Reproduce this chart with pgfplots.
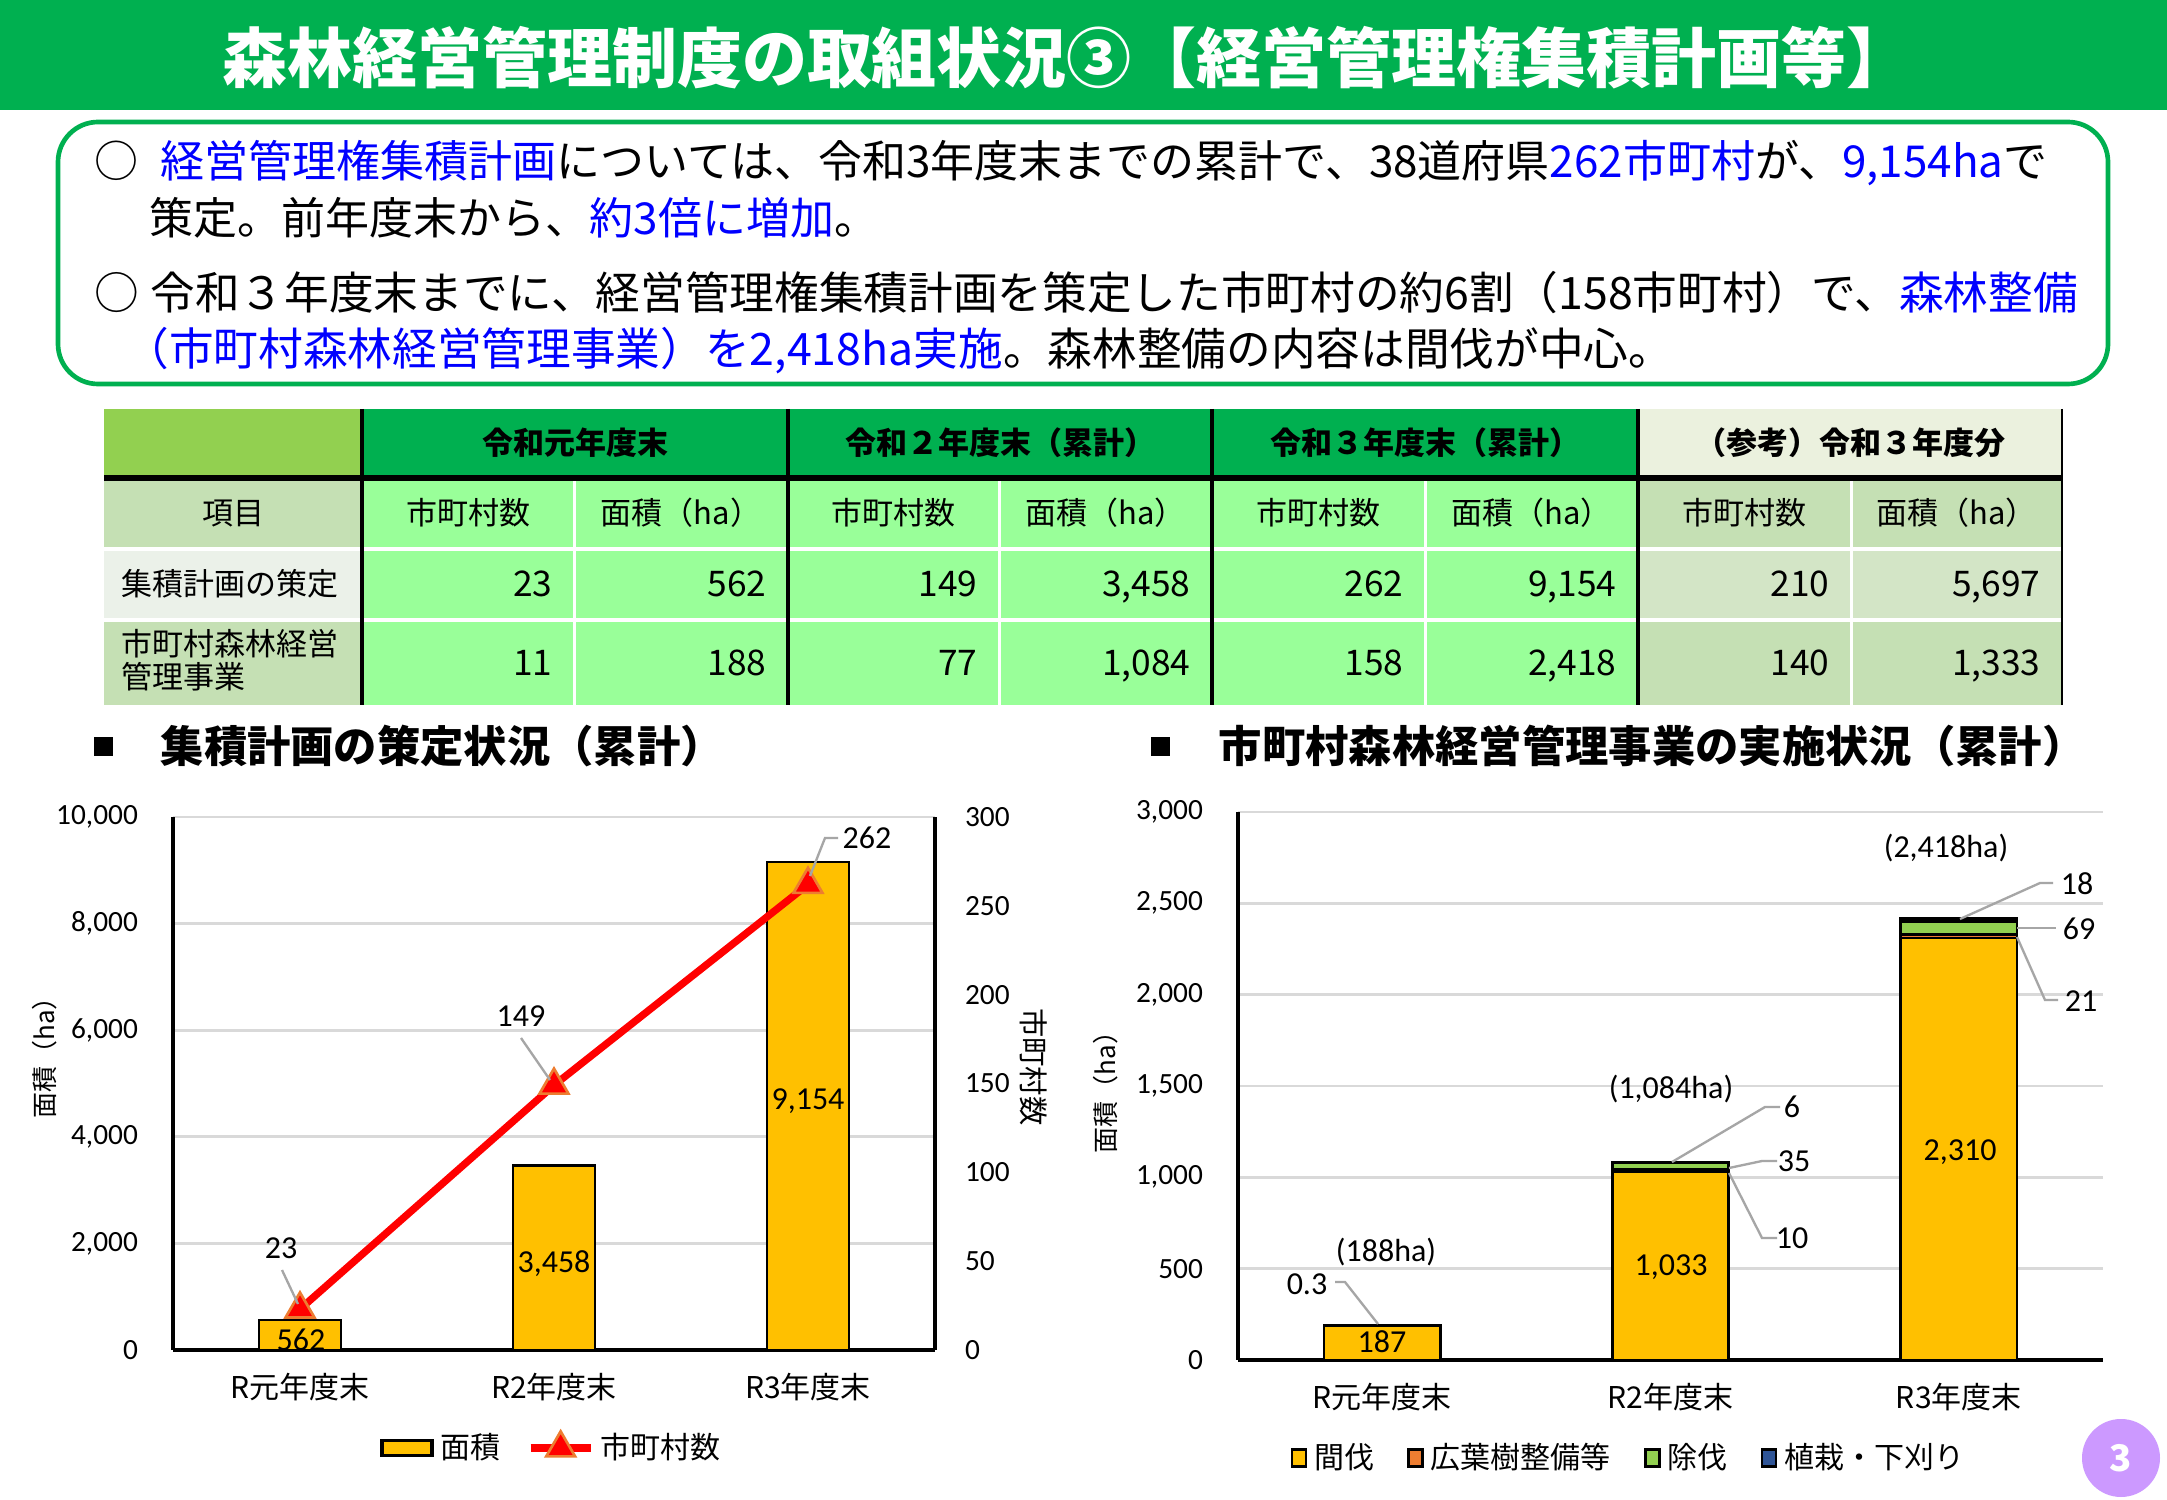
\documentclass[border=0pt]{standalone}
\usepackage{pgfplots}
\pgfplotsset{compat=1.18}
\usepackage{fontspec}
\setmainfont{Noto Sans CJK JP}
\newfontfamily\calfont{Carlito}
\newcommand{\fs}[1]{\fontsize{#1}{#1}\selectfont}
\definecolor{titlegreen}{HTML}{00B050}
\definecolor{lgreen}{HTML}{92D050}
\definecolor{cellgreen}{HTML}{99FF99}
\definecolor{palegreen}{HTML}{C5E0B4}
\definecolor{paler}{HTML}{EBF1E9}
\definecolor{refhead}{HTML}{EBF1DE}
\definecolor{refrow}{HTML}{D3E5C6}
\definecolor{barY}{HTML}{FFC000}
\definecolor{orangeC}{HTML}{ED7D31}
\definecolor{greenC}{HTML}{92D050}
\definecolor{blueC}{HTML}{2F5597}
\definecolor{gridgray}{HTML}{D9D9D9}
\definecolor{leader}{HTML}{A6A6A6}
\definecolor{purp}{HTML}{CC99FF}
\definecolor{txtblue}{HTML}{0000FF}
\pgfplotsset{
  mylinelegend/.style={legend image code/.code={\draw[mark repeat=2,mark phase=2,##1] plot coordinates {(0pt,0pt) (9pt,0pt) (18pt,0pt)};}},
  mybarlegend/.style={legend image code/.code={\draw[fill=barY,draw=black,line width=1pt] (0pt,-2.3pt) rectangle (15pt,2.3pt);}},
  mysqlegend/.style={legend image code/.code={\draw[##1, line width=0.8pt] (0pt,-2.6pt) rectangle (4.2pt,2.6pt);}},
}
\begin{document}
\begin{tikzpicture}
\begin{scope}[x=0.3pt,y=-0.3pt]
\path[use as bounding box, fill=white] (0,0) rectangle (2167,1500);
% title bar
\fill[titlegreen] (0,0) rectangle (2167,110);
\node[text=white, font=\fs{19.5}\bfseries] at (1067,58) {森林経営管理制度の取組状況③【経営管理権集積計画等】};
% rounded box
\draw[titlegreen, line width=1.4pt, rounded corners=12pt] (58,122) rectangle (2108,384);
\begin{scope}[every node/.style={anchor=west, inner sep=0pt, font=\fs{13.2}}]
\node at (94,163) {○\hspace{0.5em}\textcolor{txtblue}{経営管理権集積計画}については、令和3年度末までの累計で、38道府県\textcolor{txtblue}{262市町村}が、\textcolor{txtblue}{9,154ha}で};
\node at (149,218) {策定。前年度末から、\textcolor{txtblue}{約3倍に増加}。};
\node[font=\fs{13.4}] at (94,293) {○\hspace{0.25em}令和３年度末までに、経営管理権集積計画を策定した市町村の約6割（158市町村）で、\textcolor{txtblue}{森林整備}};
\node[font=\fs{13.4}] at (124,351) {\textcolor{txtblue}{（市町村森林経営管理事業）を2,418ha実施}。森林整備の内容は間伐が中心。};
\end{scope}
% table backgrounds
\fill[lgreen] (104,409) rectangle (362,478);
\fill[titlegreen] (362,409) rectangle (1638,478);
\fill[refhead] (1638,409) rectangle (2062,478);
\fill[palegreen] (104,478) rectangle (362,548);
\fill[paler] (104,548) rectangle (362,620);
\fill[palegreen] (104,620) rectangle (362,705);
\fill[cellgreen] (362,478) rectangle (1638,705);
\fill[palegreen] (1638,478) rectangle (2062,548);
\fill[refrow] (1638,548) rectangle (2062,620);
\fill[palegreen] (1638,620) rectangle (2062,705);
% white separators
\foreach \c in {574,999,1425,1851}{\draw[white, line width=0.9pt] (\c,480) -- (\c,705);}
\fill[white] (104,547) rectangle (2062,551);
\fill[white] (104,618) rectangle (2062,622);
% black lines
\foreach \c in {362,788,1212,1638}{\draw[black, line width=1.1pt] (\c,409) -- (\c,705);}
\draw[black, line width=0.6pt] (2062,409) -- (2062,705);
\draw[black, line width=1.6pt] (104,478) -- (2062,478);
% table text
\begin{scope}[every node/.style={font=\fs{9.3}\bfseries, inner sep=0pt}]
\node at (575,443) {令和元年度末};
\node at (1000,443) {令和２年度末（累計）};
\node at (1425,443) {令和３年度末（累計）};
\node at (1850,443) {（参考）令和３年度分};
\end{scope}
\begin{scope}[every node/.style={font=\fs{9.3}, inner sep=0pt}]
\node at (233,513) {項目};
\foreach \c in {468,893.5,1318.5,1744.5}{\node at (\c,513) {市町村数};}
\foreach \c in {681,1105.5,1531.5,1956.5}{\node at (\c,513) {面積（ha）};}
\node[anchor=west] at (121,584) {集積計画の策定};
\node[anchor=west] at (121,644) {市町村森林経営};
\node[anchor=west] at (121,677) {管理事業};
\end{scope}
\begin{scope}[every node/.style={font=\fs{10.6}, inner sep=0pt, anchor=base east}]
\node at (553,597) {23};   \node at (767,597) {562};
\node at (978,597) {149};  \node at (1191,597) {3,458};
\node at (1404,597) {262}; \node at (1617,597) {9,154};
\node at (1830,597) {210}; \node at (2041,597) {5,697};
\node at (553,676) {11};   \node at (767,676) {188};
\node at (978,676) {77};   \node at (1191,676) {1,084};
\node at (1404,676) {158}; \node at (1617,676) {2,418};
\node at (1830,676) {140}; \node at (2041,676) {1,333};
\end{scope}
% section headings
\fill[black] (94,737) rectangle (113,756);
\node[anchor=west, inner sep=0pt, font=\fs{13}\bfseries] at (160,746) {集積計画の策定状況（累計）};
\fill[black] (1151,737) rectangle (1170,756);
\node[anchor=west, inner sep=0pt, font=\fs{13}\bfseries] at (1218,746) {市町村森林経営管理事業の実施状況（累計）};
% page number
\fill[purp] (2121,1458) circle[radius=11.7pt];
\node[text=white, font=\fs{11}\bfseries] at (2121,1458) {3};
\end{scope}

% ---------- left chart: bars ----------
\begin{axis}[
  at={(51.9pt,-405pt)}, anchor=south west, scale only axis,
  width=228.6pt, height=159.9pt,
  xmin=-0.5, xmax=2.5, ymin=0, ymax=10000,
  ybar, bar width=0.323,
  xtick={0,1,2}, xticklabels={R元年度末,R2年度末,R3年度末},
  ytick={0,2000,...,10000},
  scaled y ticks=false,
  axis x line*=bottom, axis y line*=left,
  axis line style={line width=1.2pt,-},
  major tick length=0pt,
  ymajorgrids, grid style={line width=0.8pt, gridgray},
  yticklabel style={font={\calfont\fs{8.8}}, xshift=-7pt},
  xticklabel style={font={\fs{9}}, yshift=-3.5pt},
  /pgf/number format/1000 sep={,},
  /pgf/number format/assume math mode=true,
  ylabel={面積（ha）},
  ylabel style={font={\fs{7.8}}, at={(axis description cs:-0.169,0.56)}, anchor=center, rotate=0},
  clip=false,
]
\addplot[fill=barY, draw=black, line width=0.8pt] coordinates {(0,562) (1,3458) (2,9154)};
\end{axis}
% ---------- left chart: line ----------
\begin{axis}[
  at={(51.9pt,-405pt)}, anchor=south west, scale only axis,
  width=228.6pt, height=159.9pt,
  xmin=-0.5, xmax=2.5, ymin=0, ymax=300,
  axis x line=none, axis y line*=right,
  axis line style={line width=1.2pt,-},
  major tick length=0pt,
  ytick={0,50,...,300},
  yticklabel style={font={\calfont\fs{8.8}}, xshift=5.5pt},
  /pgf/number format/assume math mode=true,
  ylabel={市町村数},
  ylabel style={font={\fs{8.8}}, at={(axis description cs:1.130,0.531)}, anchor=center, rotate=180},
  legend style={draw=none, fill=none, font={\fs{9}}, at={(0.5,-0.184)}, anchor=center,
    legend columns=2, /tikz/every even column/.append style={column sep=6pt}},
  clip=false,
]
\addlegendimage{mybarlegend}
\addlegendentry{面積}
\addplot[red, line width=2.2pt, mark=triangle*, mark size=5pt,
  mark options={fill=red, draw=orangeC, line width=0.8pt}, mylinelegend]
  coordinates {(0,23) (1,149) (2,262)};
\addlegendentry{市町村数}
\end{axis}

% ---------- right chart ----------
\begin{axis}[
  at={(371.4pt,-408pt)}, anchor=south west, scale only axis,
  width=259.5pt, height=164.4pt,
  xmin=-0.5, xmax=2.5, ymin=0, ymax=3000,
  ybar stacked, bar width=0.403,
  xtick={0,1,2}, xticklabels={R元年度末,R2年度末,R3年度末},
  ytick={0,500,...,3000},
  scaled y ticks=false,
  axis x line*=bottom, axis y line*=left,
  axis line style={line width=1.2pt,-},
  major tick length=0pt,
  ymajorgrids, grid style={line width=0.8pt, gridgray},
  yticklabel style={font={\calfont\fs{8.8}}, xshift=-7pt},
  xticklabel style={font={\fs{9}}, yshift=-3.5pt},
  /pgf/number format/1000 sep={,},
  /pgf/number format/assume math mode=true,
  ylabel={面積（ha）},
  ylabel style={font={\fs{7.8}}, at={(axis description cs:-0.153,0.50)}, anchor=center, rotate=0},
  mysqlegend,
  legend style={draw=none, fill=none, font={\fs{9}}, at={(0.454,-0.179)}, anchor=center,
    legend columns=4, /tikz/every even column/.append style={column sep=8pt}},
  clip=false,
]
\addplot[fill=barY, draw=black, line width=0.8pt] coordinates {(0,187) (1,1033) (2,2310)};
\addlegendentry{間伐}
\addplot[fill=orangeC, draw=black, line width=0.8pt] coordinates {(0,0.3) (1,10) (2,21)};
\addlegendentry{広葉樹整備等}
\addplot[fill=greenC, draw=black, line width=0.8pt] coordinates {(0,0) (1,35) (2,69)};
\addlegendentry{除伐}
\addplot[fill=blueC, draw=black, line width=0.8pt] coordinates {(0,0) (1,6) (2,18)};
\addlegendentry{植栽・下刈り}
\end{axis}

% ---------- data labels ----------
\begin{scope}[x=0.3pt,y=-0.3pt]
\begin{scope}[every node/.style={font={\calfont\fs{9.6}}, inner sep=0pt, text height=0.63em, text depth=0pt}]
\node at (301,1340) {562};
\node at (554,1262) {3,458};
\node at (808,1099) {9,154};
\draw[leader, line width=0.7pt] (282,1270) -- (298,1304);
\node at (281,1248) {23};
\draw[leader, line width=0.7pt] (521,1038) -- (550,1080);
\node at (521,1016) {149};
\draw[leader, line width=0.7pt] (838,838) -- (825,838) -- (810,876);
\node[anchor=west] at (842,838) {262};
% right chart
\node at (1382,1342) {187};
\node at (1671,1265) {1,033};
\node at (1960,1150) {2,310};
\node at (1386,1251) {(188ha)};
\node at (1671,1088) {(1,084ha)};
\node at (1946,847) {(2,418ha)};
\draw[leader, line width=0.7pt] (1335,1282) -- (1345,1282) -- (1378,1324);
\node at (1307,1284) {0.3};
\draw[leader, line width=0.7pt] (1780,1107) -- (1765,1107) -- (1672,1162);
\node at (1792,1107) {6};
\draw[leader, line width=0.7pt] (1777,1161) -- (1762,1161) -- (1729,1168);
\node at (1794,1161) {35};
\draw[leader, line width=0.7pt] (1777,1238) -- (1762,1238) -- (1729,1173);
\node at (1792,1238) {10};
\draw[leader, line width=0.7pt] (2053,883) -- (2040,883) -- (1960,919);
\node at (2077,884) {18};
\draw[leader, line width=0.7pt] (2017,928) -- (2056,928);
\node at (2079,929) {69};
\draw[leader, line width=0.7pt] (2017,937) -- (2045,1000) -- (2058,1000);
\node at (2081,1001) {21};
\end{scope}
\end{scope}
\end{tikzpicture}
\end{document}
